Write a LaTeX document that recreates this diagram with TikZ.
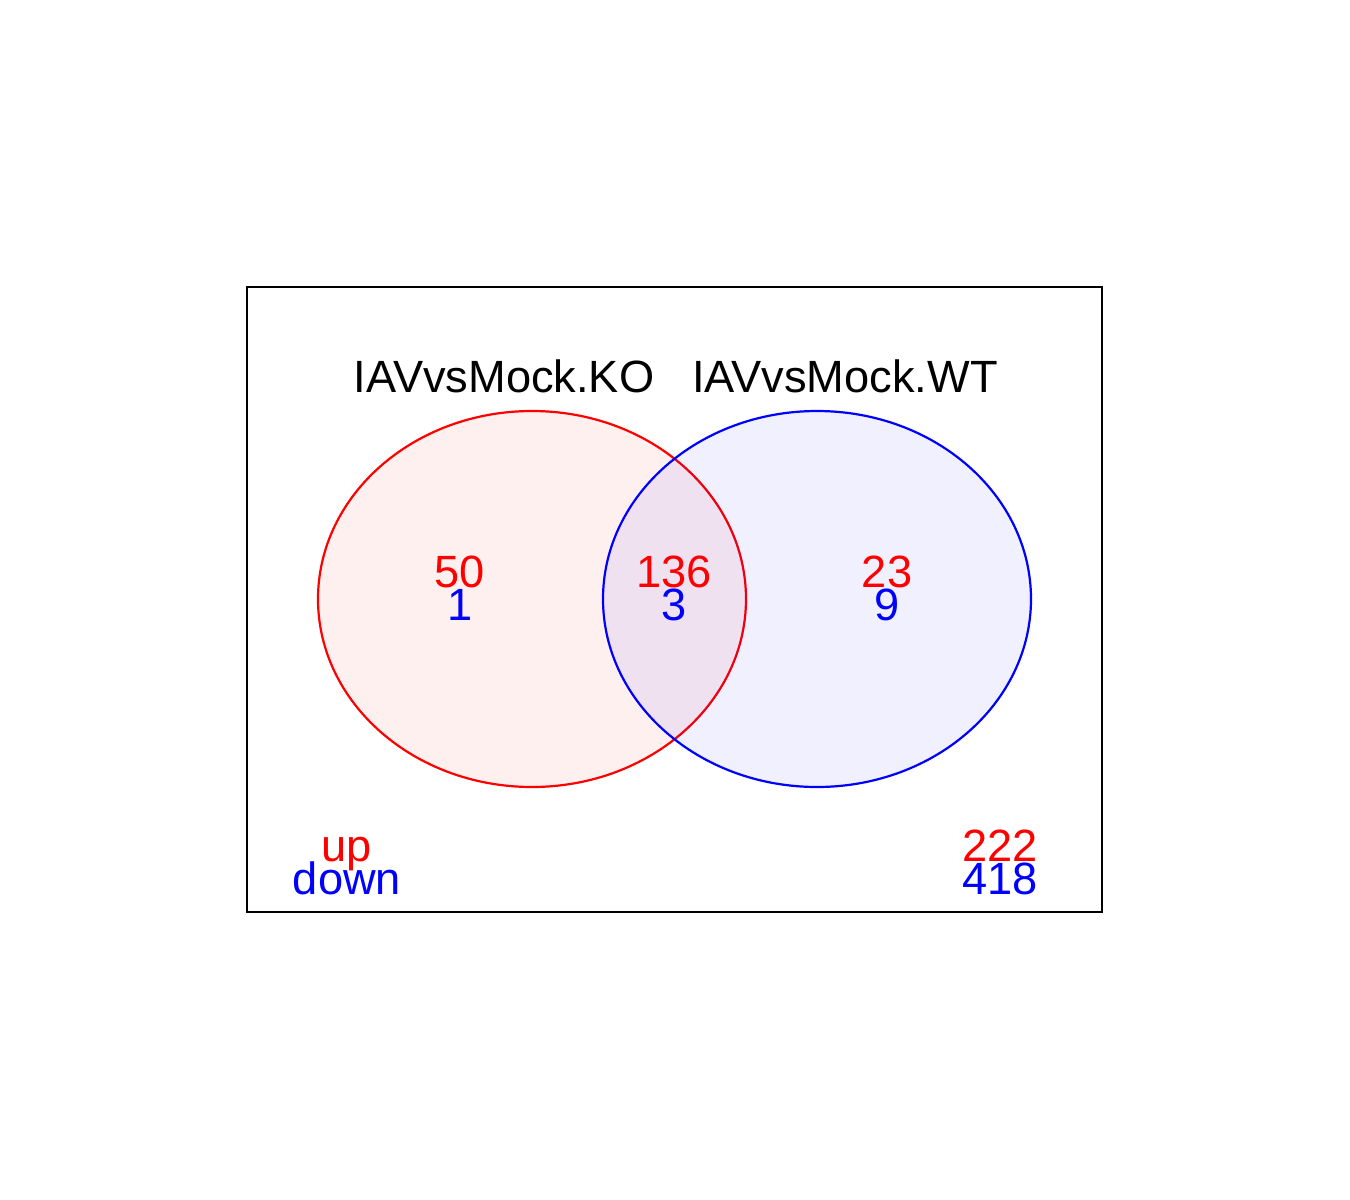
\documentclass[tikz,border=0pt]{standalone}
\usepackage{fontspec}
\setmainfont{Liberation Sans}
\usepackage{xcolor}
\usepackage{tikz}

\definecolor{uptext}{RGB}{255,0,0}
\definecolor{downtext}{RGB}{0,0,255}

\begin{document}
\begin{tikzpicture}[x=.5pt,y=-.5pt,
  lbl/.style={inner sep=0pt,outer sep=0pt,anchor=base,font=\fontsize{22.6}{27}\selectfont},
  uplbl/.style={lbl,text=uptext},
  downlbl/.style={lbl,text=downtext},
  setko/.style={draw=uptext,fill=uptext,fill opacity=0.06,line width=1.1pt},
  setwt/.style={draw=downtext,fill=downtext,fill opacity=0.06,line width=1.1pt}]
\path[use as bounding box] (0,0) rectangle (1350,1200);
\path[fill=white,draw=none] (0,0) rectangle (1350,1200);
\draw[black,line width=1.4pt] (247,287) rectangle (1102,912);
% the two sets
\path[setko] (532,599) ellipse [x radius=214,y radius=188];
\path[setwt] (817,599) ellipse [x radius=214,y radius=188];
% set names
\node[lbl] (nameko) at (504,392) {IAVvsMock.KO};
\node[lbl] (namewt) at (845,392) {IAVvsMock.WT};
% counts per region
\node[uplbl] (koup) at (460,587) {50};
\node[downlbl] (kodown) at (460,620) {1};
\node[uplbl] (bothup) at (674,587) {136};
\node[downlbl] (bothdown) at (674,620) {3};
\node[uplbl] (wtup) at (887,587) {23};
\node[downlbl] (wtdown) at (887,620) {9};
% legend and totals
\node[uplbl] (legup) at (347,861) {up};
\node[downlbl] (legdown) at (347,894) {down};
\node[uplbl] (totup) at (1000,861) {222};
\node[downlbl] (totdown) at (1000,894) {418};
\end{tikzpicture}
\end{document}
